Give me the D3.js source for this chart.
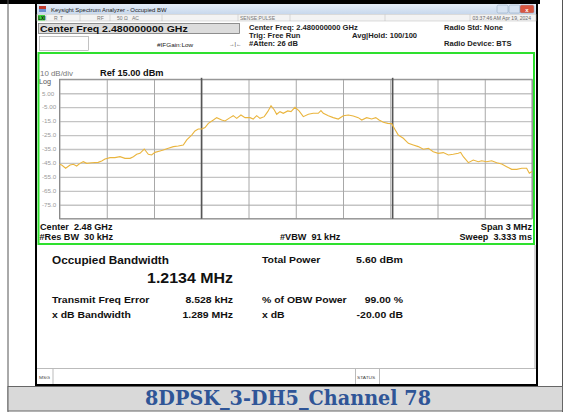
<!DOCTYPE html>
<html><head><meta charset="utf-8">
<script src="https://cdn.jsdelivr.net/npm/d3@7/dist/d3.min.js"></script>
<style>
html,body{margin:0;padding:0;background:#fff;}
svg{display:block;font-family:"Liberation Sans",Arial,sans-serif;}
</style></head>
<body>
<svg id="c" width="563" height="412"></svg>
<script>
// ---- data ----
const centerMHz = 2480;
const spanMHz = 3;
const refLevel = 15;
const dbPerDiv = 10;
const traceOffsetMHz = [-1.500,-1.486,-1.461,-1.433,-1.412,-1.391,-1.370,-1.349,-1.327,-1.296,-1.254,-1.232,-1.211,-1.179,-1.148,-1.116,-1.084,-1.052,-1.031,-1.010,-0.989,-0.962,-0.936,-0.915,-0.894,-0.862,-0.841,-0.809,-0.777,-0.746,-0.714,-0.692,-0.661,-0.640,-0.619,-0.597,-0.576,-0.555,-0.523,-0.502,-0.470,-0.449,-0.417,-0.397,-0.375,-0.348,-0.322,-0.290,-0.270,-0.248,-0.227,-0.200,-0.178,-0.157,-0.136,-0.121,-0.100,-0.079,-0.051,-0.030,-0.005,0.021,0.048,0.080,0.111,0.143,0.160,0.175,0.207,0.238,0.270,0.302,0.334,0.365,0.397,0.419,0.450,0.482,0.508,0.529,0.556,0.584,0.609,0.630,0.651,0.683,0.715,0.746,0.778,0.810,0.842,0.873,0.905,0.937,0.969,1.000,1.032,1.047,1.064,1.096,1.127,1.159,1.181,1.212,1.244,1.276,1.308,1.339,1.371,1.403,1.435,1.466,1.483,1.500];
const traceDbm = [-46.0,-46.5,-48.8,-46.5,-46.0,-47.2,-45.3,-44.1,-45.3,-44.9,-44.6,-43.6,-42.2,-41.2,-41.2,-40.5,-41.7,-41.7,-40.5,-38.8,-38.1,-35.0,-38.8,-39.3,-37.4,-36.4,-35.7,-34.5,-33.3,-32.8,-32.1,-28.5,-25.0,-22.1,-20.7,-20.7,-19.6,-16.6,-14.2,-12.5,-14.2,-14.9,-12.5,-11.1,-13.0,-10.6,-12.5,-12.5,-13.5,-11.1,-13.0,-11.8,-8.2,-3.9,-7.0,-10.1,-8.2,-9.4,-7.7,-8.2,-5.1,-7.7,-11.8,-10.1,-9.4,-9.4,-7.5,-9.4,-11.1,-12.5,-13.5,-11.1,-10.6,-11.3,-12.5,-14.2,-12.5,-13.5,-12.5,-14.2,-15.8,-16.6,-16.8,-21.0,-25.0,-27.3,-30.9,-32.1,-33.3,-35.2,-34.5,-36.9,-38.1,-37.6,-39.3,-38.8,-38.1,-37.4,-40.5,-44.8,-42.9,-44.1,-43.4,-44.1,-43.4,-44.8,-45.8,-47.7,-49.6,-49.6,-48.8,-48.8,-52.4,-51.2];
const yTickValues = [5,-5,-15,-25,-35,-45,-55,-65,-75];
const yTickLabels = ["5.00","-5.00","-15.0","-25.0","-35.0","-45.0","-55.0","-65.0","-75.0"];
const obwMHz = 1.2134;
const freqErrKHz = 8.528;
const resultLeftLabels = ["Transmit Freq Error","x dB Bandwidth"];
const resultLeftValues = ["8.528 kHz","1.289 MHz"];
const resultRightLabels = ["% of OBW Power","x dB"];
const resultRightValues = ["99.00 %","-20.00 dB"];
const caption = "8DPSK_3-DH5_Channel 78";

// ---- drawing ----
const svg = d3.select("#c");
const g = svg.append("g");
const SX = 1.1; // screenshot is horizontally stretched
function T(x, y, str, o = {}) {
  const t = g.append("text")
    .attr("transform", `translate(${x},${y}) scale(${o.sx ?? SX},1)`)
    .attr("font-size", o.fs ?? 8)
    .attr("fill", o.fill ?? "#111")
    .attr("text-anchor", o.anchor ?? "start")
    .attr("xml:space", "preserve")
    .text(str);
  if (o.bold) t.attr("font-weight", "bold");
  return t;
}

// outer page table
g.append("rect").attr("x",0).attr("y",0).attr("width",540).attr("height",4).attr("fill","#000");
g.append("line").attr("x1",8).attr("x2",8).attr("y1",0).attr("y2",412).attr("stroke","#555").attr("stroke-width",1);
g.append("line").attr("x1",562.5).attr("x2",562.5).attr("y1",0).attr("y2",412).attr("stroke","#555").attr("stroke-width",1);

// screenshot black frame
g.append("rect").attr("x",35).attr("y",0).attr("width",503).attr("height",387).attr("fill","#000");
g.append("rect").attr("x",37).attr("y",4).attr("width",499).attr("height",380).attr("fill","#fff");

// title bar
const tg = svg.append("defs").append("linearGradient").attr("id","tb").attr("x1",0).attr("x2",0).attr("y1",0).attr("y2",1);
tg.append("stop").attr("offset",0).attr("stop-color","#e4edf8");
tg.append("stop").attr("offset",1).attr("stop-color","#c8d8ec");
g.append("rect").attr("x",37).attr("y",4).attr("width",499).attr("height",10).attr("fill","url(#tb)");
g.append("rect").attr("x",39).attr("y",6).attr("width",7).attr("height",6).attr("fill","#c0392b");
g.append("rect").attr("x",39).attr("y",9).attr("width",7).attr("height",3).attr("fill","#6a8fcf");
T(51, 11.5, "Keysight Spectrum Analyzer - Occupied BW", {fs:5.4, fill:"#222"});
[[497,"#d6e2f1"],[509,"#d6e2f1"],[520,"#d9553f"]].forEach(([x,c])=>{
  g.append("rect").attr("x",x).attr("y",5).attr("width",x===520?14:11).attr("height",8).attr("rx",1.5).attr("fill",c).attr("stroke","#8aa0bb").attr("stroke-width",0.5);
});
T(527, 11.5, "x", {fs:6, fill:"#fff", bold:true, anchor:"middle", sx:1});

// status row
g.append("rect").attr("x",37).attr("y",14.5).attr("width",499).attr("height",6.5).attr("fill","#f3f3f3").attr("stroke","#bbb").attr("stroke-width",0.5);
[46,80,110,162,238,290,385,470].forEach(x=>g.append("line").attr("x1",x).attr("x2",x).attr("y1",14.5).attr("y2",21).attr("stroke","#bbb").attr("stroke-width",0.5));
g.append("rect").attr("x",38).attr("y",15).attr("width",7).attr("height",5.5).attr("fill","#3bd13b");
T(38.3, 19.6, "LXI", {fs:4.6, bold:true, sx:1});
[[54,"R"],[60,"T"],[97,"RF"],[117,"50 Ω"],[132,"AC"],[240,"SENSE:PULSE"]].forEach(([x,t])=>T(x, 19.6, t, {fs:4.6, fill:"#777"}));
T(531, 19.6, "03:37:46 AM Apr 19, 2024", {fs:4.6, fill:"#666", anchor:"end"});

// Center Freq box
g.append("rect").attr("x",38.5).attr("y",23.5).attr("width",201).attr("height",10).attr("fill","#dcdcdc").attr("stroke","#777").attr("stroke-width",0.8);
T(40, 32.3, "Center Freq 2.480000000 GHz", {fs:9.6, bold:true});
g.append("rect").attr("x",39.5).attr("y",36.5).attr("width",49).attr("height",14).attr("fill","#fff").attr("stroke","#999").attr("stroke-width",0.6);
T(157, 47, "#IFGain:Low", {fs:5.8, fill:"#222"});
T(229, 46, "→|←", {fs:5, fill:"#333"});
[[249,30,"Center Freq: 2.480000000 GHz"],[249,38,"Trig: Free Run"],[249,46,"#Atten: 26 dB"],[352,38,"Avg|Hold: 100/100"],[444,30,"Radio Std: None"],[444,46,"Radio Device: BTS"]]
  .forEach(([x,y,t])=>T(x, y, t, {fs:6.9, bold:true, fill:"#222"}));

// green frame
g.append("rect").attr("x",38.5).attr("y",53).attr("width",495.5).attr("height",191).attr("fill","#fff").attr("stroke","#2ee02e").attr("stroke-width",2);

// plot scales
const x = d3.scaleLinear().domain([centerMHz - spanMHz/2, centerMHz + spanMHz/2]).range([59.5, 532]);
const y = d3.scaleLinear().domain([refLevel - 10*dbPerDiv, refLevel]).range([218.7, 79.3]);

// horizontal grid
const hAxis = d3.axisLeft(y).tickValues(d3.range(refLevel - 10*dbPerDiv, refLevel + 1, dbPerDiv)).tickSize(-(x.range()[1]-x.range()[0])).tickFormat("");
const hg = g.append("g").attr("transform",`translate(${x.range()[0]},0)`).call(hAxis);
hg.select(".domain").remove();
hg.selectAll("line").attr("stroke","#c4c4c4").attr("stroke-width",1.3);
// vertical grid
const vAxis = d3.axisBottom(x).tickValues(d3.range(11).map(i=>centerMHz - spanMHz/2 + i*spanMHz/10)).tickSize(-(y.range()[0]-y.range()[1])).tickFormat("");
const vg = g.append("g").attr("transform",`translate(0,${y.range()[0]})`).call(vAxis);
vg.select(".domain").remove();
vg.selectAll("line").attr("stroke","#a8a8a8").attr("stroke-width",1);
// border
g.append("rect").attr("x",x.range()[0]).attr("y",y.range()[1]).attr("width",x.range()[1]-x.range()[0]).attr("height",y.range()[0]-y.range()[1]).attr("fill","none").attr("stroke","#8a8a8a").attr("stroke-width",1);

// y labels
const yl = d3.axisLeft(y).tickValues(yTickValues).tickSize(0).tickFormat((d,i)=>yTickLabels[i]);
const yg = g.append("g").attr("transform","translate(42,0)").call(yl);
yg.select(".domain").remove();
yg.selectAll(".tick text").attr("font-size",5.6).attr("fill","#9a9a9a").attr("font-family","Liberation Sans, Arial")
  .attr("text-anchor","start").attr("x",0).attr("transform","scale(1.12,1)");

T(40, 76, "10 dB/div", {fs:7.2, fill:"#777"});
T(39, 83.5, "Log", {fs:6.6, fill:"#555"});
T(100, 76, "Ref 15.00 dBm", {fs:8.4, bold:true});

// OBW markers
const fLow = centerMHz + freqErrKHz/1000 - obwMHz/2;
const fHigh = centerMHz + freqErrKHz/1000 + obwMHz/2;
[fLow,fHigh].forEach(f=>g.append("line").attr("x1",x(f)).attr("x2",x(f)).attr("y1",y.range()[1]-1.5).attr("y2",y.range()[0]).attr("stroke","#555").attr("stroke-width",1.6));

// trace
const pts = traceOffsetMHz.map((o,i)=>[centerMHz + o, traceDbm[i]]);
g.append("path").datum(pts).attr("fill","none").attr("stroke","#eab53e").attr("stroke-width",1.1)
  .attr("d", d3.line().x(d=>x(d[0])).y(d=>y(d[1])));

// bottom annotations
const afs = 8.3;
T(40, 229.5, "Center  2.48 GHz", {fs:afs, bold:true});
T(39.5, 240, "#Res BW  30 kHz", {fs:afs, bold:true});
T(280, 240, "#VBW  91 kHz", {fs:afs, bold:true});
T(532, 229.5, "Span 3 MHz", {fs:afs, bold:true, anchor:"end"});
T(532, 240, "Sweep  3.333 ms", {fs:afs, bold:true, anchor:"end"});

// results panel
g.append("line").attr("x1",535).attr("x2",535).attr("y1",245).attr("y2",368).attr("stroke","#aaa");
T(52, 264, "Occupied Bandwidth", {fs:10.7, bold:true});
T(233, 282.5, obwMHz.toFixed(4)+" MHz", {fs:14.5, bold:true, anchor:"end"});
T(262, 263, "Total Power", {fs:9.5, bold:true});
T(403, 263, "5.60 dBm", {fs:9.6, bold:true, anchor:"end"});
[303,318].forEach((yy,i)=>{
  T(52, yy, resultLeftLabels[i], {fs:9.5, bold:true});
  T(233, yy, resultLeftValues[i], {fs:9.5, bold:true, anchor:"end"});
  T(262, yy, resultRightLabels[i], {fs:9.5, bold:true});
  T(403, yy, resultRightValues[i], {fs:9.5, bold:true, anchor:"end"});
});

// MSG / STATUS bar
g.append("line").attr("x1",37).attr("x2",536).attr("y1",368.5).attr("y2",368.5).attr("stroke","#bbb");
[53,355.5,379.5].forEach(xx=>g.append("line").attr("x1",xx).attr("x2",xx).attr("y1",368.5).attr("y2",384).attr("stroke","#bbb"));
T(39, 378.5, "MSG", {fs:4.4, fill:"#444"});
T(357, 378.5, "STATUS", {fs:4.4, fill:"#444"});

// caption band
g.append("rect").attr("x",8).attr("y",386.5).attr("width",554.5).attr("height",24.5).attr("fill","#d9d9d9").attr("stroke","#666").attr("stroke-width",1);
g.append("text").attr("x",288).attr("y",405).attr("font-size",20).attr("font-weight","bold").attr("fill","#2f5597")
  .attr("font-family","'DejaVu Serif','Liberation Serif',serif").attr("text-anchor","middle")
  .attr("textLength",286).attr("lengthAdjust","spacingAndGlyphs").text(caption);
</script>
</body></html>
